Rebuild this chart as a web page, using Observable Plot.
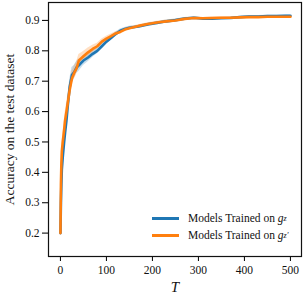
<!DOCTYPE html>
<html><head><meta charset="utf-8">
<script src="https://cdn.jsdelivr.net/npm/d3@7"></script>
<script src="https://cdn.jsdelivr.net/npm/@observablehq/plot@0.6"></script>
<style>
body{margin:0;background:#fff;}
#wrap{position:relative;width:304px;height:300px;}
#wrap svg, #wrap svg text{font-family:"Liberation Serif","Times New Roman",serif !important;}
.leg{position:absolute;left:152px;font-family:"Liberation Serif","Times New Roman",serif;font-size:11.5px;color:#111;white-space:nowrap;display:flex;align-items:center;}
.leg .sw{display:inline-block;width:27px;height:3px;margin-right:9px;}
.leg sub{font-size:8px;font-style:italic;vertical-align:-2px;}
g[aria-label="x-axis tick label"] text, g[aria-label="y-axis tick label"] text{fill:#111;}
</style></head><body><div id="wrap"></div>
<script>
const T = [0,1,2,3,5,8,10,13,16,20,25,30,35,40,45,50,60,70,80,90,100,110,120,130,140,150,170,190,210,230,250,270,290,310,330,350,370,390,410,430,450,470,490,500];
const blueMean = [0.20,0.30,0.36,0.41,0.45,0.50,0.53,0.57,0.62,0.68,0.72,0.730,0.745,0.752,0.760,0.768,0.778,0.790,0.800,0.815,0.830,0.842,0.855,0.866,0.872,0.876,0.880,0.887,0.892,0.897,0.901,0.906,0.909,0.906,0.906,0.907,0.908,0.911,0.913,0.913,0.914,0.914,0.915,0.915];
const blueStd = [0.01,0.02,0.025,0.025,0.025,0.025,0.025,0.025,0.025,0.025,0.025,0.022,0.02,0.02,0.018,0.016,0.014,0.012,0.01,0.009,0.008,0.007,0.006,0.006,0.005,0.005,0.004,0.004,0.004,0.004,0.004,0.004,0.003,0.003,0.003,0.003,0.003,0.003,0.003,0.003,0.003,0.003,0.003,0.003];
const orangeMean = [0.20,0.36,0.43,0.47,0.50,0.54,0.57,0.60,0.63,0.67,0.71,0.728,0.742,0.768,0.775,0.782,0.795,0.806,0.815,0.830,0.840,0.848,0.857,0.862,0.870,0.874,0.882,0.888,0.893,0.897,0.900,0.905,0.908,0.907,0.908,0.909,0.909,0.910,0.911,0.911,0.912,0.912,0.912,0.912];
const orangeStd = [0.01,0.02,0.025,0.025,0.025,0.025,0.025,0.025,0.025,0.025,0.022,0.022,0.02,0.02,0.018,0.016,0.014,0.012,0.01,0.009,0.008,0.007,0.006,0.006,0.005,0.005,0.004,0.004,0.004,0.004,0.004,0.004,0.003,0.003,0.003,0.003,0.003,0.003,0.003,0.003,0.003,0.003,0.003,0.003];
const xTicks = [0,100,200,300,400,500];
const yTicks = [0.2,0.3,0.4,0.5,0.6,0.7,0.8,0.9];
const seriesNames = ["gz","gz'"];
const seriesColors = ["#1f77b4","#ff7f0e"];
const seriesSub = ["z","z\u2032"];
const xLabel = "T";
const yLabel = "Accuracy on the test dataset";

const rows = [];
T.forEach((t,i)=>{
  rows.push({T:t, s:seriesNames[0], m:blueMean[i], lo:blueMean[i]-blueStd[i], hi:blueMean[i]+blueStd[i]});
  rows.push({T:t, s:seriesNames[1], m:orangeMean[i], lo:orangeMean[i]-orangeStd[i], hi:orangeMean[i]+orangeStd[i]});
});

const chart = Plot.plot({
  width:304, height:300,
  marginLeft:48, marginRight:3, marginTop:2, marginBottom:44,
  style:{fontFamily:'"Liberation Serif","Times New Roman",serif', fontSize:"11px", background:"white", color:"#111"},
  x:{domain:[-26,524]},
  y:{domain:[0.123,0.959]},
  color:{domain:seriesNames, range:seriesColors},
  marks:[
    Plot.areaY(rows,{x:"T", y1:"lo", y2:"hi", fill:"s", fillOpacity:0.25, z:"s", curve:"linear"}),
    Plot.line(rows,{x:"T", y:"m", stroke:"s", z:"s", strokeWidth:2.6}),
    Plot.frame({stroke:"#111", strokeWidth:1.2}),
    Plot.axisX(xTicks,{tickSize:5, tickPadding:4, label:null, fontSize:11.5, strokeWidth:1.1}),
    Plot.axisY(yTicks,{tickSize:6, tickPadding:3, label:null, fontSize:11.5, tickFormat:d3.format(".1f"), strokeWidth:1.1}),
    Plot.text([yLabel],{frameAnchor:"left", textAnchor:"middle", rotate:-90, dx:-39, fontSize:13.5, fill:"#111"}),
    Plot.text([xLabel],{frameAnchor:"bottom", dy:35, fontSize:15, fontStyle:"italic", fill:"#111"})
  ]
});
const wrap = document.getElementById("wrap");
wrap.appendChild(chart);
const legTops = [220, 237];
seriesNames.forEach((n,i)=>{
  const d = document.createElement("div");
  d.className = "leg";
  d.style.top = (legTops[i]-8)+"px";
  d.innerHTML = `<span class="sw" style="background:${seriesColors[i]}"></span>Models Trained on&nbsp;<i>g</i><sub>${seriesSub[i]}</sub>`;
  wrap.appendChild(d);
});
</script></body></html>
